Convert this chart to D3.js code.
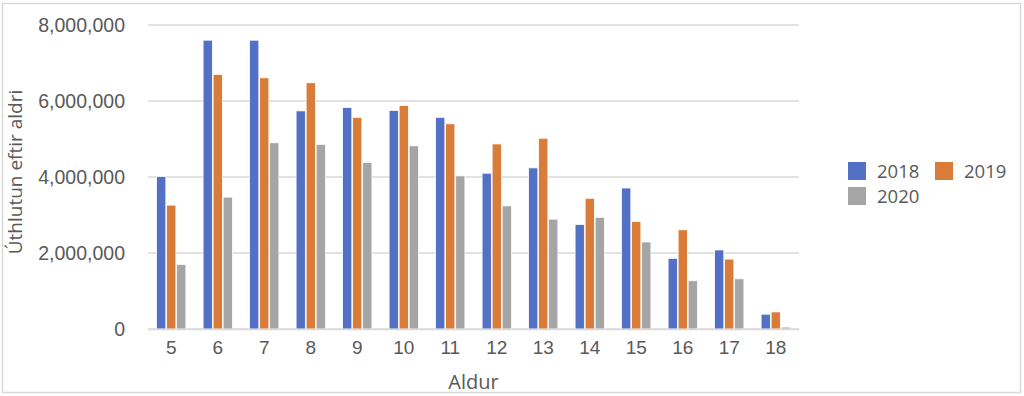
<!DOCTYPE html>
<html>
<head>
<meta charset="utf-8">
<script src="https://cdn.jsdelivr.net/npm/d3@7"></script>
<style>
  body { margin: 0; background: #fff; }
  svg { display: block; font-family: "Open Sans", "Noto Sans", sans-serif; }
</style>
</head>
<body>
<svg id="chart" width="1024" height="396"></svg>
<script>
// ages on the x axis
const ages = ['5', '6', '7', '8', '9', '10', '11', '12', '13', '14', '15', '16', '17', '18'];
const years = ['2018', '2019', '2020'];
// values
const v2018 = [4010000, 7600000, 7600000, 5740000, 5830000, 5750000, 5570000, 4100000, 4240000, 2750000, 3710000, 1860000, 2080000, 390000];
const v2019 = [3260000, 6700000, 6610000, 6480000, 5570000, 5880000, 5400000, 4870000, 5020000, 3440000, 2830000, 2610000, 1840000, 450000];
const v2020 = [1700000, 3470000, 4900000, 4860000, 4380000, 4820000, 4030000, 3240000, 2890000, 2940000, 2290000, 1270000, 1320000, 50000];
const yTicks = [0, 2000000, 4000000, 6000000, 8000000];
const colors = ['#5271c4', '#d97c3a', '#a5a5a5'];

const series = [v2018, v2019, v2020];

const svg = d3.select('#chart');
const plot = { left: 148, right: 799, top: 25, bottom: 329 };

// outer frame
svg.append('rect')
  .attr('x', 2.5).attr('y', 3.5)
  .attr('width', 1018).attr('height', 389)
  .attr('fill', '#fff')
  .attr('stroke', '#d9d9d9')
  .attr('stroke-width', 1.5);

const x = d3.scaleBand()
  .domain(ages)
  .range([plot.left, plot.right])
  .paddingInner(0.37)
  .paddingOuter(0.185);

const xs = d3.scaleBand()
  .domain(years)
  .range([0, x.bandwidth()])
  .paddingInner(0.08);

const y = d3.scaleLinear()
  .domain([0, 8000000])
  .range([plot.bottom, plot.top]);

// gridlines
svg.append('g')
  .selectAll('line')
  .data(yTicks)
  .join('line')
  .attr('x1', plot.left).attr('x2', plot.right)
  .attr('y1', d => y(d)).attr('y2', d => y(d))
  .attr('stroke', '#d9d9d9')
  .attr('stroke-width', 1.5);

// y tick labels
const yAxis = svg.append('g')
  .attr('transform', `translate(${plot.left - 23},0)`)
  .call(d3.axisLeft(y).tickValues(yTicks).tickSize(0).tickPadding(0).tickFormat(d3.format(',')));
yAxis.select('.domain').remove();
yAxis.selectAll('text')
  .attr('fill', '#595959')
  .style('font-size', '19.5px');

// bars
const groups = svg.append('g')
  .selectAll('g')
  .data(ages)
  .join('g')
  .attr('transform', d => `translate(${x(d)},0)`);

groups.selectAll('rect')
  .data((d, i) => years.map((yr, j) => ({ yr, v: series[j][i], c: colors[j] })))
  .join('rect')
  .attr('x', d => xs(d.yr))
  .attr('width', xs.bandwidth())
  .attr('y', d => y(d.v))
  .attr('height', d => y(0) - y(d.v))
  .attr('fill', d => d.c)
  .attr('stroke', '#fff')
  .attr('stroke-width', 0.75);

// x axis
const xAxis = svg.append('g')
  .attr('transform', `translate(0,${plot.bottom})`)
  .call(d3.axisBottom(x).tickSize(0).tickPadding(12));
xAxis.select('.domain')
  .attr('stroke', '#d9d9d9')
  .attr('stroke-width', 1.5);
xAxis.selectAll('text')
  .attr('fill', '#595959')
  .style('font-size', '19px');

// axis titles
svg.append('text')
  .attr('x', (plot.left + plot.right) / 2)
  .attr('y', 389)
  .attr('text-anchor', 'middle')
  .attr('fill', '#595959')
  .style('font-size', '20px')
  .text('Aldur');

svg.append('text')
  .attr('transform', 'translate(22,172) rotate(-90)')
  .attr('text-anchor', 'middle')
  .attr('fill', '#595959')
  .style('font-size', '19px')
  .text('Úthlutun eftir aldri');

// legend
const legendPos = [[848, 162], [935, 162], [848, 187]];
const legend = svg.append('g')
  .selectAll('g')
  .data(years)
  .join('g')
  .attr('transform', (d, i) => `translate(${legendPos[i][0]},${legendPos[i][1]})`);
legend.append('rect')
  .attr('width', 18).attr('height', 18)
  .attr('fill', (d, i) => colors[i]);
legend.append('text')
  .attr('x', 29).attr('y', 15.5)
  .attr('fill', '#595959')
  .style('font-size', '18.5px')
  .text(d => d);
</script>
</body>
</html>
